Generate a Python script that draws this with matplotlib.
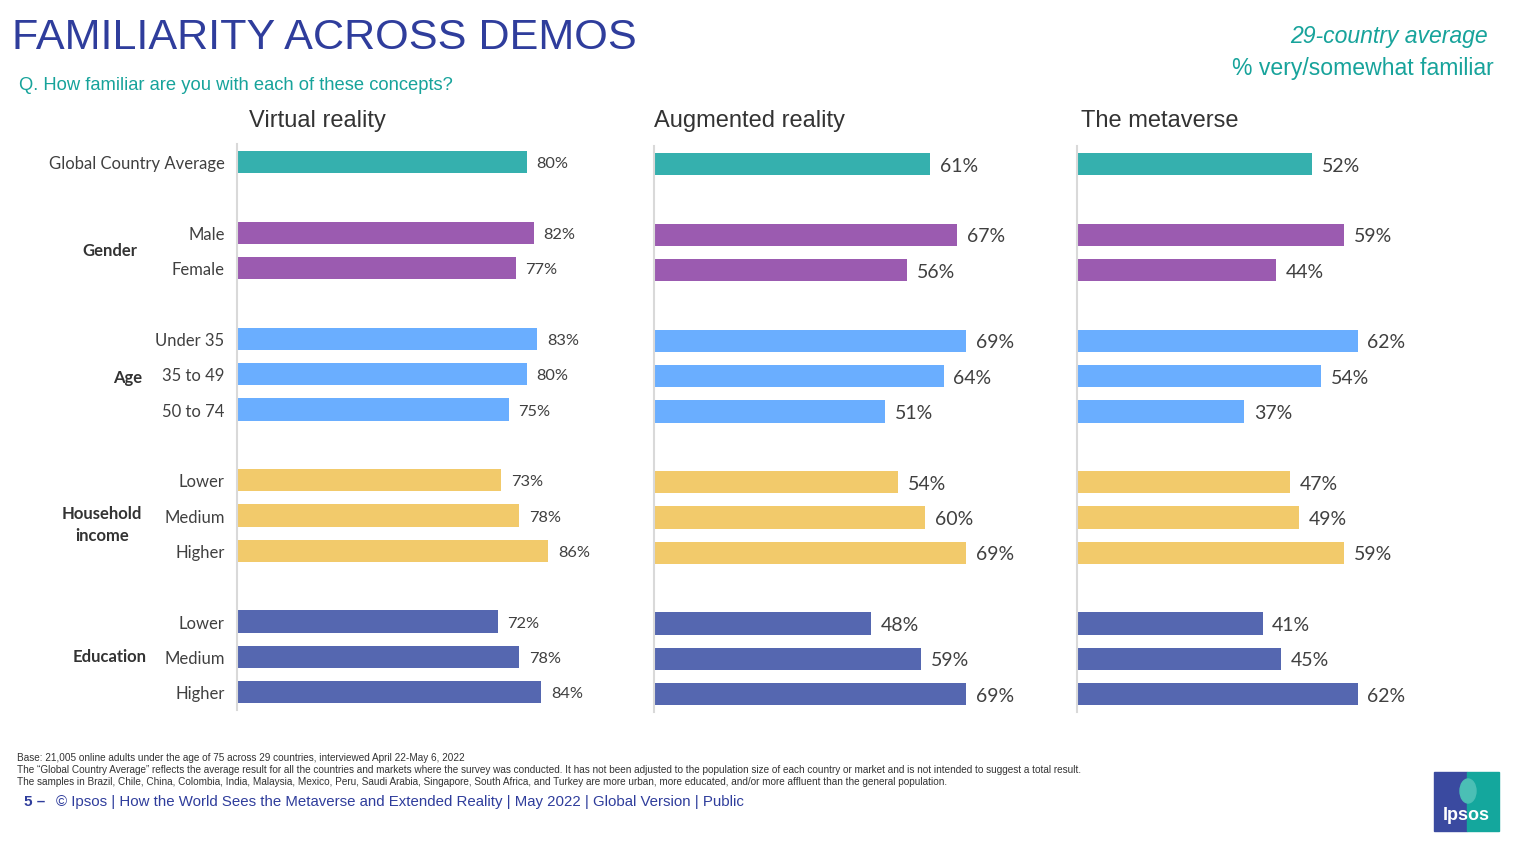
import matplotlib
matplotlib.use("Agg")
import matplotlib.pyplot as plt
import matplotlib.patches as mpatches

W, H = 1526, 850

# ── data ─────────────────────────────────────────────────────────────────────
categories = ["Global Country Average", "Male", "Female", "Under 35", "35 to 49", "50 to 74",
              "Lower", "Medium", "Higher", "Lower", "Medium", "Higher"]
row_pos = [0, 2, 3, 5, 6, 7, 9, 10, 11, 13, 14, 15]
groups = ["", "gender", "gender", "age", "age", "age",
          "income", "income", "income", "edu", "edu", "edu"]
group_labels = {"gender": "Gender", "age": "Age", "income": "Household\nincome", "edu": "Education"}

panel_titles = ["Virtual reality", "Augmented reality", "The metaverse"]
vr = [80, 82, 77, 83, 80, 75, 73, 78, 86, 72, 78, 84]
ar = [61, 67, 56, 69, 64, 51, 54, 60, 69, 48, 59, 69]
meta = [52, 59, 44, 62, 54, 37, 47, 49, 59, 41, 45, 62]

GROUP_COLORS = {"": "#35B0AE", "gender": "#9B5BB0", "age": "#6AAEFF",
                "income": "#F2CA6B", "edu": "#5567B0"}

TITLE_BLUE = "#2F3D9C"
TEAL_TXT = "#17A39B"
GRAY_TXT = "#404040"


def fx(px):
    return px / W


def fy(py):
    return 1 - py / H


fig = plt.figure(figsize=(W / 100, H / 100), dpi=100)
fig.patch.set_facecolor("white")

# panel geometry in pixels: (left, top, bottom, xmax, value fontsize, title x)
panels = [
    (237, 144.3, 709.9, 100, 11.8, 249),
    (654, 146.3, 711.9, 80, 14, 654),
    (1077, 146.3, 711.9, 80, 14, 1081),
]
AX_W = 362

for (left, top, bot, xmax, vfs, tx), title, vals in zip(panels, panel_titles, [vr, ar, meta]):
    ax = fig.add_axes([fx(left), fy(bot), fx(AX_W), (bot - top) / H])
    colors = [GROUP_COLORS[g] for g in groups]
    ax.barh(row_pos, vals, height=0.63, color=colors, zorder=2)
    for y, v in zip(row_pos, vals):
        ax.annotate(f"{v}%", xy=(v, y), xytext=(7, -1.5), textcoords="offset points",
                    va="center", ha="left", fontsize=vfs, color=GRAY_TXT, family="Lato")
    ax.set_xlim(0, xmax)
    ax.set_ylim(15.5, -0.5)
    for s in ("top", "right", "bottom"):
        ax.spines[s].set_visible(False)
    ax.spines["left"].set_color("#D9D9D9")
    ax.spines["left"].set_linewidth(1.5)
    ax.set_xticks([])
    ax.set_yticks([])
    fig.text(fx(tx), fy(121), title, fontsize=17,
             color="#333333", family="Liberation Sans", va="center", ha="left")

# category labels (left of first panel)
ax0 = fig.axes[0]
for y, c in zip(row_pos, categories):
    ax0.annotate(c, xy=(0, y), xytext=(-9, -1.5), textcoords="offset points",
                 ha="right", va="center", fontsize=12, color=GRAY_TXT, family="Lato")

# group labels
group_pos = {"gender": (110, 251), "age": (128, 378), "income": (102, 525), "edu": (110, 657)}
for key, (px, py) in group_pos.items():
    fig.text(fx(px), fy(py), group_labels[key], ha="center", va="center", fontsize=12,
             fontweight="bold", color="#333333", family="Lato", linespacing=1.4)

# header
fig.text(fx(12), fy(38), "FAMILIARITY ACROSS DEMOS", fontsize=31.1, color=TITLE_BLUE,
         family="Liberation Sans", va="center", ha="left")
fig.text(fx(19), fy(86), "Q. How familiar are you with each of these concepts?", fontsize=13.2,
         color=TEAL_TXT, family="Liberation Sans", va="center", ha="left")
fig.text(fx(1488), fy(37), "29-country average", fontsize=16.6, color=TEAL_TXT, style="italic",
         family="Liberation Sans", va="center", ha="right")
fig.text(fx(1494), fy(68), "% very/somewhat familiar", fontsize=16.6, color=TEAL_TXT,
         family="Liberation Sans", va="center", ha="right")

# footnotes
notes = [
    "Base: 21,005 online adults under the age of 75 across 29 countries, interviewed April 22-May 6, 2022",
    "The \u201cGlobal Country Average\u201d reflects the average result for all the countries and markets where the survey was conducted. "
    "It has not been adjusted to the population size of each country or market and is not intended to suggest a total result.",
    "The samples in Brazil, Chile, China, Colombia, India, Malaysia, Mexico, Peru, Saudi Arabia, Singapore, South Africa, "
    "and Turkey are more urban, more educated, and/or more affluent than the general population.",
]
for i, n in enumerate(notes):
    fig.text(fx(17), fy(758 + 12 * i), n, fontsize=7.2, color="#333333",
             family="Liberation Sans", va="center", ha="left")

fig.text(fx(24), fy(802), "5 \u2013", fontsize=11, color=TITLE_BLUE, fontweight="bold",
         family="Liberation Sans", va="center", ha="left")
fig.text(fx(56), fy(802),
         "\u00a9 Ipsos | How the World Sees the Metaverse and Extended Reality | May 2022 | Global Version | Public",
         fontsize=10.8, color=TITLE_BLUE, family="Liberation Sans", va="center", ha="left")

# logo
fig.patches.append(mpatches.Rectangle((fx(1434), fy(831)), fx(33), (831 - 772) / H,
                                      transform=fig.transFigure, color="#3A4AA0", zorder=1))
fig.patches.append(mpatches.Rectangle((fx(1467), fy(831)), fx(32), (831 - 772) / H,
                                      transform=fig.transFigure, color="#14A79D", zorder=1))
fig.patches.append(mpatches.Ellipse((fx(1468), fy(791)), fx(16), 24 / H,
                                    transform=fig.transFigure, color="#4BBFB5", zorder=2))
fig.text(fx(1466), fy(816), "Ipsos", fontsize=13, color="white", fontweight="bold",
         family="Liberation Sans", ha="center", va="center", zorder=3)

fig.savefig("out.png", dpi=100, facecolor="white")
